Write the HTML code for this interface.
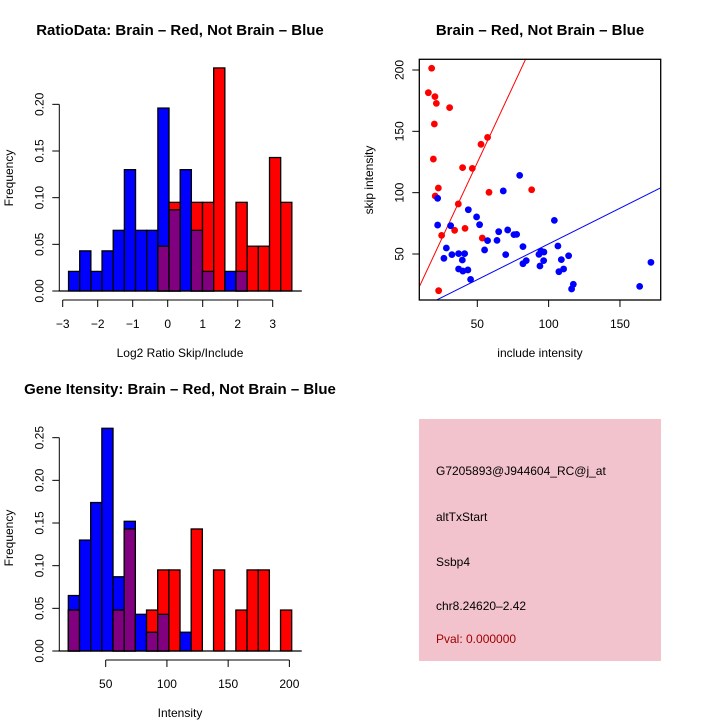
<!DOCTYPE html>
<html><head><meta charset="utf-8"><style>
html,body{margin:0;padding:0;background:#fff;}
svg{display:block;font-family:"Liberation Sans",sans-serif;}
</style></head><body>
<svg id="c" width="720" height="720" viewBox="0 0 720 720">
<rect width="720" height="720" fill="#fff"/>
<text x="180" y="35" text-anchor="middle" font-size="15" font-weight="bold">RatioData: Brain – Red, Not Brain – Blue</text>
<text x="540" y="35" text-anchor="middle" font-size="15" font-weight="bold">Brain – Red, Not Brain – Blue</text>
<text x="180" y="394" text-anchor="middle" font-size="15" font-weight="bold">Gene Itensity: Brain – Red, Not Brain – Blue</text>
<g id="p1"></g>
<g id="p2"></g>
<g id="p3"></g>
<g>
<rect x="419" y="419" width="242" height="242" fill="#f2c3cd"/>
<g font-size="12">
<text x="436" y="475">G7205893@J944604_RC@j_at</text>
<text x="436" y="521">altTxStart</text>
<text x="436" y="566">Ssbp4</text>
<text x="436" y="610">chr8.24620–2.42</text>
<text x="436" y="643" fill="#a00000">Pval: 0.000000</text>
</g></g>
</svg>
<script>
// ---- Ratio histogram data ----
const ratioBinStart = -2.833;
const ratioBinWidth = 0.319;
const ratioBlue = [0.021,0.043,0.021,0.043,0.065,0.13,0.065,0.065,0.196,0.087,0.13,0.065,0.021,0,0.021,0.021,0,0,0,0];
const ratioRed  = [0,0,0,0,0,0,0,0,0.048,0.095,0,0.095,0.095,0.239,0,0.095,0.048,0.048,0.143,0.095];
const ratioYTicks = [0,0.05,0.10,0.15,0.20];
const ratioYLabels = ["0.00","0.05","0.10","0.15","0.20"];
const ratioXTicks = [-3,-2,-1,0,1,2,3];
const ratioXLabels = ["−3","−2","−1","0","1","2","3"];
// ---- Intensity histogram data ----
const intBinStart = 19.5;
const intBinWidth = 9.12;
const intBlue = [0.065,0.13,0.174,0.261,0.087,0.152,0.043,0.022,0.043,0,0.022,0,0,0,0,0,0,0,0,0];
const intRed  = [0.048,0,0,0,0.048,0.143,0,0.048,0.095,0.095,0,0.143,0,0.095,0,0.048,0.095,0.095,0,0.048];
const intYTicks = [0,0.05,0.10,0.15,0.20,0.25];
const intYLabels = ["0.00","0.05","0.10","0.15","0.20","0.25"];
const intXTicks = [50,100,150,200];
const intXLabels = ["50","100","150","200"];
// ---- Scatter data ----
const redInclude = [18,15.7,20.3,21.3,30.6,19.9,52.6,57.2,19.2,39.7,46.5,22.7,88.1,58.2,20.5,36.7,25,34.1,41.4,53.5,22.9];
const redSkip    = [201.4,181.5,178.3,172.8,169.3,156,139.4,145.1,127.4,120.4,119.8,103.8,102.4,100.3,97.3,90.8,65.2,69.3,70.9,63,20.1];
const blueInclude = [22.2,22.2,31.3,43.7,49.5,51.6,68.2,79.7,104,28.3,26.6,32.2,36.9,41.1,39.5,36.9,39.9,43.4,45.3,57.2,55.1,65,63.8,71.3,69.9,75.7,77.6,82,82,84.3,93.2,94.6,96.7,93.9,96.5,106.5,108.9,107.2,110.5,114,116.1,117.3,163.8,171.7];
const blueSkip    = [95.4,73.6,73.1,86.1,80.2,73.9,101.4,114.1,77.4,54.9,46.5,49.5,50.3,50.3,45.1,37.8,36.1,37,29.3,60.9,53.3,68.2,61.1,69.6,49.5,65.8,66,56,42.1,44.6,49.7,52.4,51.6,40.2,44.6,56.5,45.4,35.6,37.8,48.6,21.5,25.3,23.6,43.2];
const lineSlopes = [2.49, 0.582];
const scatterXTicks = [50,100,150];
const scatterYTicks = [50,100,150,200];

const NS="http://www.w3.org/2000/svg";
function mk(parent,tag,attrs){const e=document.createElementNS(NS,tag);for(const k in attrs)e.setAttribute(k,attrs[k]);parent.appendChild(e);return e;}

function histogram(g,opt){
  const xs=v=>opt.x0px+(v-opt.x0)*opt.xk;
  const ys=v=>opt.basePx-v*opt.yk;
  const n=opt.blue.length;
  for(let i=0;i<n;i++){
    const a=opt.binStart+i*opt.binW, b=a+opt.binW;
    const bl=opt.blue[i], rd=opt.red[i], mn=Math.min(bl,rd);
    if(bl>0){const r=mk(g,'rect',{x:xs(a),y:ys(bl),width:xs(b)-xs(a),height:ys(0)-ys(bl),fill:'#0000ff',stroke:'#000','stroke-width':1.3});
      
      }
    if(rd>0){const r=mk(g,'rect',{x:xs(a),y:ys(rd),width:xs(b)-xs(a),height:ys(0)-ys(rd),fill:'#ff0000',stroke:'#000','stroke-width':1.3});
      
      }
    if(mn>0){const r=mk(g,'rect',{x:xs(a),y:ys(mn),width:xs(b)-xs(a),height:ys(0)-ys(mn),fill:'#800080',stroke:'#000','stroke-width':1.3});
      
      }
  }
  const lastEdge=opt.binStart+n*opt.binW;
  mk(g,'line',{x1:xs(opt.binStart)-10,x2:xs(lastEdge)+10,y1:ys(0),y2:ys(0),stroke:'#000','stroke-width':1.3});
  const ya=mk(g,'g',{});
  
  
  const yt=opt.yTicks;
  mk(ya,'line',{x1:opt.yAxisX,x2:opt.yAxisX,y1:ys(yt[0]),y2:ys(yt[yt.length-1]),stroke:'#000'});
  yt.forEach((v,i)=>{
    mk(ya,'line',{x1:opt.yAxisX-7,x2:opt.yAxisX,y1:ys(v),y2:ys(v),stroke:'#000'});
    const t=mk(ya,'text',{x:0,y:0,'font-size':12,'text-anchor':'middle',transform:`translate(${opt.yAxisX-16},${ys(v)}) rotate(-90)`});
    t.textContent=opt.yLabels[i];
  });
  const yt2=mk(ya,'text',{'font-size':12,'text-anchor':'middle',transform:`translate(13,${opt.yTitleY}) rotate(-90)`});
  yt2.textContent='Frequency';
  const xa=mk(g,'g',{});
  
  
  const xt=opt.xTicks;
  mk(xa,'line',{x1:xs(xt[0]),x2:xs(xt[xt.length-1]),y1:opt.xAxisY,y2:opt.xAxisY,stroke:'#000'});
  xt.forEach((v,i)=>{
    mk(xa,'line',{x1:xs(v),x2:xs(v),y1:opt.xAxisY,y2:opt.xAxisY+7,stroke:'#000'});
    const t=mk(xa,'text',{x:xs(v),y:opt.xAxisY+28,'font-size':12,'text-anchor':'middle'});
    t.textContent=opt.xLabels[i];
  });
  const xt2=mk(xa,'text',{x:opt.xTitleX,y:opt.xTitleY,'font-size':12,'text-anchor':'middle'});
  xt2.textContent=opt.xTitle;
}

histogram(document.getElementById('p1'),{
  x0:0,x0px:167.7,xk:35,basePx:291,yk:933.3,
  binStart:ratioBinStart,binW:ratioBinWidth,blue:ratioBlue,red:ratioRed,
  yTicks:ratioYTicks,yLabels:ratioYLabels,yAxisX:59.3,yTitleY:178,
  xTicks:ratioXTicks,xLabels:ratioXLabels,xAxisY:300,xTitleX:180,xTitleY:357,xTitle:'Log2 Ratio Skip/Include'});
histogram(document.getElementById('p3'),{
  x0:50,x0px:105.7,xk:1.2245,basePx:651,yk:853.3,
  binStart:intBinStart,binW:intBinWidth,blue:intBlue,red:intRed,
  yTicks:intYTicks,yLabels:intYLabels,yAxisX:59.3,yTitleY:538,
  xTicks:intXTicks,xLabels:intXLabels,xAxisY:660,xTitleX:180,xTitleY:717,xTitle:'Intensity'});

(function(){
  const g=document.getElementById('p2');
  const L=419.3,R=660.7,T=59.3,B=300;
  const xs=v=>477.3+(v-50)*1.4267;
  const ys=v=>254-(v-50)*1.2267;
  const ix=x=>50+(x-477.3)/1.4267;
  const cp=mk(g,'clipPath',{id:'sc'});mk(cp,'rect',{x:L,y:T,width:R-L,height:B-T});
  const cols=['#ff0000','#0000ff'];
  lineSlopes.forEach((s,i)=>{
    const x1=ix(L),x2=ix(R);
    const l=mk(g,'line',{x1:xs(x1),y1:ys(s*x1),x2:xs(x2),y2:ys(s*x2),stroke:cols[i],'stroke-width':1,'clip-path':'url(#sc)'});
    
    
  });
  redInclude.forEach((v,i)=>{const c=mk(g,'circle',{cx:xs(v),cy:ys(redSkip[i]),r:3.4,fill:'#ff0000'});
    
    });
  blueInclude.forEach((v,i)=>{const c=mk(g,'circle',{cx:xs(v),cy:ys(blueSkip[i]),r:3.4,fill:'#0000ff'});
    
    });
  const box=mk(g,'rect',{x:L,y:T,width:R-L,height:B-T,fill:'none',stroke:'#000','stroke-width':1.3});
  
  
  const xa=mk(g,'g',{});
  
  
  scatterXTicks.forEach(v=>{mk(xa,'line',{x1:xs(v),x2:xs(v),y1:B,y2:B+7,stroke:'#000'});
    const t=mk(xa,'text',{x:xs(v),y:B+28,'font-size':12,'text-anchor':'middle'});t.textContent=String(v);});
  const xt=mk(xa,'text',{x:540,y:357,'font-size':12,'text-anchor':'middle'});xt.textContent='include intensity';
  const ya=mk(g,'g',{});
  
  
  scatterYTicks.forEach(v=>{mk(ya,'line',{x1:L-7,x2:L,y1:ys(v),y2:ys(v),stroke:'#000'});
    const t=mk(ya,'text',{'font-size':12,'text-anchor':'middle',transform:`translate(${L-16},${ys(v)}) rotate(-90)`});t.textContent=String(v);});
  const yt=mk(ya,'text',{'font-size':12,'text-anchor':'middle',transform:`translate(373,180) rotate(-90)`});yt.textContent='skip intensity';
})();
</script>
</body></html>
